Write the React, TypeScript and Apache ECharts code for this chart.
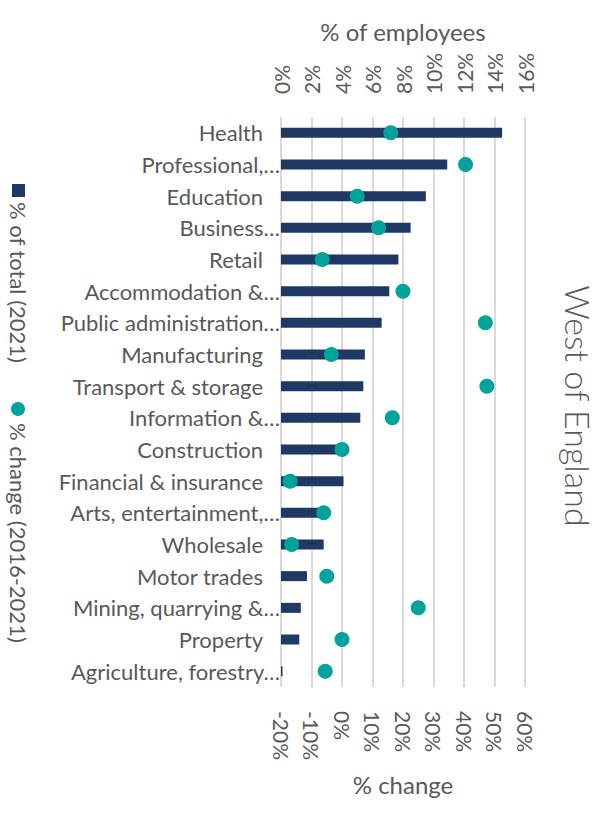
import React, { useEffect, useRef } from "react";
import * as echarts from "echarts";

const categories = [
  "Health",
  "Professional,…",
  "Education",
  "Business…",
  "Retail",
  "Accommodation &…",
  "Public administration…",
  "Manufacturing",
  "Transport & storage",
  "Information &…",
  "Construction",
  "Financial & insurance",
  "Arts, entertainment,…",
  "Wholesale",
  "Motor trades",
  "Mining, quarrying &…",
  "Property",
  "Agriculture, forestry…",
];

// % of total employees (2021)
const shareOfTotal = [14.5, 10.9, 9.5, 8.5, 7.7, 7.1, 6.6, 5.5, 5.4, 5.2, 4.0, 4.1, 2.7, 2.8, 1.7, 1.3, 1.2, 0.1];
// % change (2016-2021)
const pctChange = [16, 40.5, 5, 12, -6.5, 20, 47, -3.5, 47.5, 16.5, 0, -17, -6, -16.5, -5, 25, 0, -5.5];

const topTicks = { min: 0, max: 16, interval: 2 };
const bottomTicks = { min: -20, max: 60, interval: 10 };

const FONT = "Lato";
const GREY = "#595959";
const NAVY = "#1f3864";
const TEAL = "#00a39b";

export default function App() {
  const ref = useRef<HTMLDivElement>(null);
  useEffect(() => {
    if (!ref.current) return;
    const chart = echarts.init(ref.current, null, { renderer: "svg" });
    chart.setOption({
      animation: false,
      grid: { left: 281, right: 74, top: 117, bottom: 133 },
      xAxis: [
        {
          type: "value",
          position: "top",
          ...topTicks,
          axisLine: { show: false },
          axisTick: { show: false },
          splitLine: { show: true, lineStyle: { color: "#d9d9d9", width: 2 } },
          axisLabel: {
            rotate: -90,
            margin: 23,
            color: GREY,
            fontFamily: FONT,
            fontSize: 21,
            formatter: (v: number) => `${v}%`,
          },
        },
        {
          type: "value",
          position: "bottom",
          ...bottomTicks,
          axisLine: { show: false },
          axisTick: { show: false },
          splitLine: { show: false },
          axisLabel: {
            rotate: -90,
            margin: 24,
            color: GREY,
            fontFamily: FONT,
            fontSize: 21,
            formatter: (v: number) => `${v}%`,
          },
        },
      ],
      yAxis: {
        type: "category",
        inverse: true,
        data: categories,
        axisLine: { show: false },
        axisTick: { show: false },
        axisLabel: {
          margin: 1,
          formatter: (v: string) => (v.endsWith("…") ? `{t|${v}}` : `{n|${v}}`),
          rich: {
            t: { color: GREY, fontFamily: FONT, fontSize: 22 },
            n: { color: GREY, fontFamily: FONT, fontSize: 22, padding: [0, 17, 0, 0] },
          },
        },
      },
      series: [
        {
          name: "% of total (2021)",
          type: "bar",
          xAxisIndex: 0,
          data: shareOfTotal,
          barWidth: 10,
          itemStyle: { color: NAVY },
          z: 2,
        },
        {
          name: "% change (2016-2021)",
          type: "scatter",
          xAxisIndex: 1,
          data: pctChange.map((v, i) => [v, categories[i]]),
          symbolSize: 15,
          itemStyle: { color: TEAL, opacity: 1 },
          z: 3,
        },
      ],
      graphic: [
        {
          type: "text",
          x: 403,
          y: 31,
          style: { text: "% of employees", font: `24px ${FONT}`, fill: GREY, textAlign: "center", textVerticalAlign: "middle" },
        },
        {
          type: "text",
          x: 403,
          y: 784,
          style: { text: "% change", font: `24px ${FONT}`, fill: GREY, textAlign: "center", textVerticalAlign: "middle" },
        },
        {
          type: "text",
          x: 578,
          y: 406,
          rotation: -Math.PI / 2,
          style: { text: "West of England", font: `300 34px ${FONT}`, fill: GREY, textAlign: "center", textVerticalAlign: "middle" },
        },
        {
          type: "rect",
          shape: { x: 12, y: 184, width: 13, height: 13 },
          style: { fill: NAVY },
        },
        {
          type: "text",
          x: 18,
          y: 202,
          rotation: -Math.PI / 2,
          style: { text: "% of total (2021)", font: `22px ${FONT}`, fill: GREY, textAlign: "left", textVerticalAlign: "middle" },
        },
        {
          type: "circle",
          shape: { cx: 18, cy: 409, r: 7 },
          style: { fill: TEAL },
        },
        {
          type: "text",
          x: 18,
          y: 423,
          rotation: -Math.PI / 2,
          style: { text: "% change (2016-2021)", font: `22px ${FONT}`, fill: GREY, textAlign: "left", textVerticalAlign: "middle" },
        },
      ],
    });
    return () => chart.dispose();
  }, []);
  return <div ref={ref} style={{ position: "absolute", left: 0, top: 0, width: 599, height: 820 }} />;
}
